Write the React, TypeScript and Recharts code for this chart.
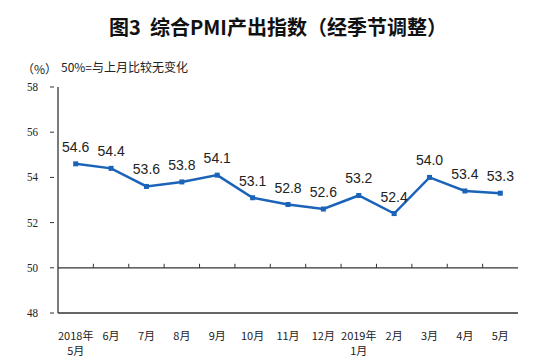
import { LineChart, Line, XAxis, YAxis, ReferenceLine } from 'recharts'

const months = ['2018年\n5月', '6月', '7月', '8月', '9月', '10月', '11月', '12月', '2019年\n1月', '2月', '3月', '4月', '5月']
const pmi = [54.6, 54.4, 53.6, 53.8, 54.1, 53.1, 52.8, 52.6, 53.2, 52.4, 54.0, 53.4, 53.3]
const yTicks = [48, 50, 52, 54, 56, 58]

const data = months.map((m, i) => ({ month: m, value: pmi[i] }))

const BLUE = '#1b63b8'
const HALF_BAND = 460 / months.length / 2

const MonthTick = ({ x, y, payload }: any) => {
  const lines = String(payload.value).split('\n')
  return (
    <g>
      {lines.map((l, i) => (
        <text key={i} x={x} y={y + 19 + i * 15} textAnchor="middle" fontSize={11} fill="#222" fontFamily="'Noto Sans CJK SC', sans-serif">
          {l}
        </text>
      ))}
    </g>
  )
}

const ValueTick = ({ x, y, payload }: any) => (
  <g>
    <line x1={x} x2={x + 4} y1={y} y2={y} stroke="#333" />
    <text x={x - 12} y={y + 4} textAnchor="end" fontSize={13} fill="#222" fontFamily="'Liberation Serif', serif" transform={`translate(${x - 12} 0) scale(0.85 1) translate(${-(x - 12)} 0)`}>
      {payload.value}
    </text>
  </g>
)

// 50 line with small upward ticks at the month boundaries
const MidLine = (props: any) => {
  const { x1, x2, y1 } = props
  const band = (x2 - x1) / months.length
  return (
    <g>
      <line x1={x1} x2={x2} y1={y1} y2={y1} stroke="#333" strokeWidth={1.3} />
      {months.slice(1).map((_, i) => (
        <line key={i} x1={x1 + band * (i + 1)} x2={x1 + band * (i + 1)} y1={y1} y2={y1 - 4} stroke="#333" />
      ))}
    </g>
  )
}

const Dot = ({ cx, cy }: any) => <rect x={cx - 2.5} y={cy - 2.5} width={5} height={5} fill={BLUE} />

export default function App() {
  return (
    <div style={{ position: 'absolute', left: 0, top: 0, width: 550, height: 363, background: '#fff' }}>
      <div style={{ position: 'absolute', left: 0, width: 556, top: 13, textAlign: 'center', fontSize: 20, fontWeight: 'bold', fontFamily: "'Noto Sans CJK SC', sans-serif", color: '#111', lineHeight: '28px', whiteSpace: 'pre' }}>
        图3  综合PMI产出指数（经季节调整）
      </div>
      <div style={{ position: 'absolute', left: 22, top: 60, fontSize: 12, fontFamily: "'Noto Sans CJK SC', serif", color: '#222', lineHeight: '18px' }}>
        （%）
      </div>
      <div style={{ position: 'absolute', left: 61, top: 58, fontSize: 12, fontFamily: "'Noto Sans CJK SC', sans-serif", color: '#222', lineHeight: '18px' }}>
        50%=与上月比较无变化
      </div>
      <div style={{ position: 'absolute', left: 0, top: 0 }}>
        <LineChart width={550} height={363} data={data} margin={{ top: 87, right: 32, bottom: 0, left: 18 }}>
          <XAxis dataKey="month" interval={0} tickLine={false} axisLine={{ stroke: '#333', strokeWidth: 1.3 }} tick={<MonthTick />} height={50} padding={{ left: HALF_BAND, right: HALF_BAND }} />
          <XAxis xAxisId="top" orientation="top" dataKey="month" tick={false} tickLine={false} axisLine={{ stroke: '#333', strokeWidth: 1.3 }} height={0} />
          <YAxis domain={[48, 58]} ticks={yTicks} tickLine={false} axisLine={{ stroke: '#333', strokeWidth: 1.3 }} width={40} tick={<ValueTick />} />
          <YAxis yAxisId="right" orientation="right" domain={[48, 58]} tick={false} tickLine={false} axisLine={{ stroke: '#333', strokeWidth: 1.3 }} width={0} />
          <ReferenceLine y={50} shape={<MidLine />} />
          <Line
            dataKey="value"
            stroke={BLUE}
            strokeWidth={2.5}
            dot={<Dot />}
            activeDot={false}
            isAnimationActive={false}
            label={{ position: 'top', offset: 12, fontSize: 14, fill: '#222', fontFamily: "'Liberation Sans', Arial, sans-serif", formatter: (v: any) => Number(v).toFixed(1) }}
          />
        </LineChart>
      </div>
    </div>
  )
}
